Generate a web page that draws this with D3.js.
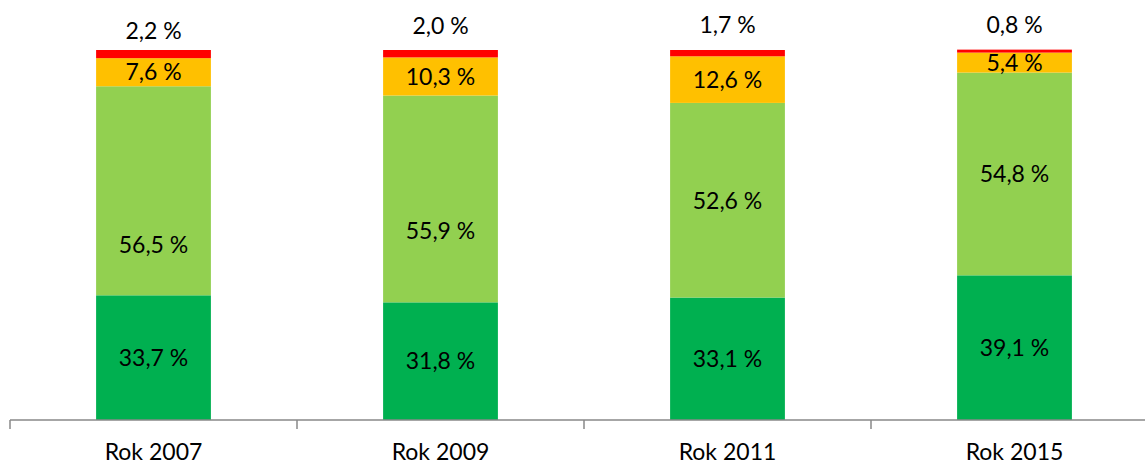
<!DOCTYPE html>
<html>
<head>
<meta charset="utf-8">
<script src="https://cdn.jsdelivr.net/npm/d3@7"></script>
<style>
  html, body { margin: 0; padding: 0; background: #fff; }
  svg { display: block; }
  text { font-family: Lato, "Open Sans", sans-serif; fill: #000; }
</style>
</head>
<body>
<svg id="chart" width="1145" height="465"></svg>
<script>
// ---- data ----
const categories = ["Rok 2007", "Rok 2009", "Rok 2011", "Rok 2015"];
const darkGreen  = [33.7, 31.8, 33.1, 39.1];
const lightGreen = [56.5, 55.9, 52.6, 54.8];
const orange     = [7.6, 10.3, 12.6, 5.4];
const red        = [2.2, 2.0, 1.7, 0.8];
const seriesNames = ["darkGreen", "lightGreen", "orange", "red"];

// ---- styling / layout (not data) ----
const colors = ["#00B050", "#92D050", "#FFC000", "#FF0000"];
// manual label nudges (px, positive = down) per series per category
const labelNudge = [
  [0, 0, 0, 0],
  [54, 32, 0, 0],
  [0, 0, 0, 0],
  [0, 0, 0, 0]
];
// distance of the top (red) labels above the bar top
const topLabelGap = [19.5, 24, 25, 25];
const fs = 23;

const svg = d3.select("#chart");
const x = d3.scaleBand().domain(categories).range([10, 1158])
  .paddingInner(0.6).paddingOuter(0.3);
const y = d3.scaleLinear().domain([0, 100]).range([420, 50]);

const rows = categories.map((c, i) => ({
  cat: c, darkGreen: darkGreen[i], lightGreen: lightGreen[i], orange: orange[i], red: red[i]
}));
const stacked = d3.stack().keys(seriesNames)(rows);

const fmt = v => d3.format(".1f")(v).replace(".", ",") + " %";

stacked.forEach((layer, si) => {
  const g = svg.append("g");
  g.selectAll("rect").data(layer).enter().append("rect")
    .attr("x", d => x(d.data.cat))
    .attr("width", x.bandwidth())
    .attr("y", d => y(d[1]))
    .attr("height", d => y(d[0]) - y(d[1]))
    .attr("fill", colors[si]);

  g.selectAll("text").data(layer).enter().append("text")
    .attr("x", d => x(d.data.cat) + x.bandwidth() / 2)
    .attr("y", (d, i) => {
      let c;
      if (si === 3) c = y(d[1]) - topLabelGap[i];
      else c = (y(d[0]) + y(d[1])) / 2 + labelNudge[si][i];
      return c + 0.36 * fs;
    })
    .attr("text-anchor", "middle")
    .attr("font-size", fs)
    .text(d => fmt(d[1] - d[0]));
});

// ---- axis ----
const axis = svg.append("g");
axis.append("line")
  .attr("x1", 10).attr("x2", 1145).attr("y1", 420).attr("y2", 420)
  .attr("stroke", "#898989").attr("stroke-width", 1.5);
const boundaries = d3.range(categories.length + 1)
  .map(i => x.range()[0] + i * x.step());
axis.selectAll("line.tick").data(boundaries).enter().append("line")
  .attr("class", "tick")
  .attr("x1", d => d).attr("x2", d => d)
  .attr("y1", 420).attr("y2", 429)
  .attr("stroke", "#898989").attr("stroke-width", 1.5);
axis.selectAll("text").data(categories).enter().append("text")
  .attr("x", d => x(d) + x.bandwidth() / 2)
  .attr("y", 460)
  .attr("text-anchor", "middle")
  .attr("font-size", fs)
  .text(d => d);
</script>
</body>
</html>
